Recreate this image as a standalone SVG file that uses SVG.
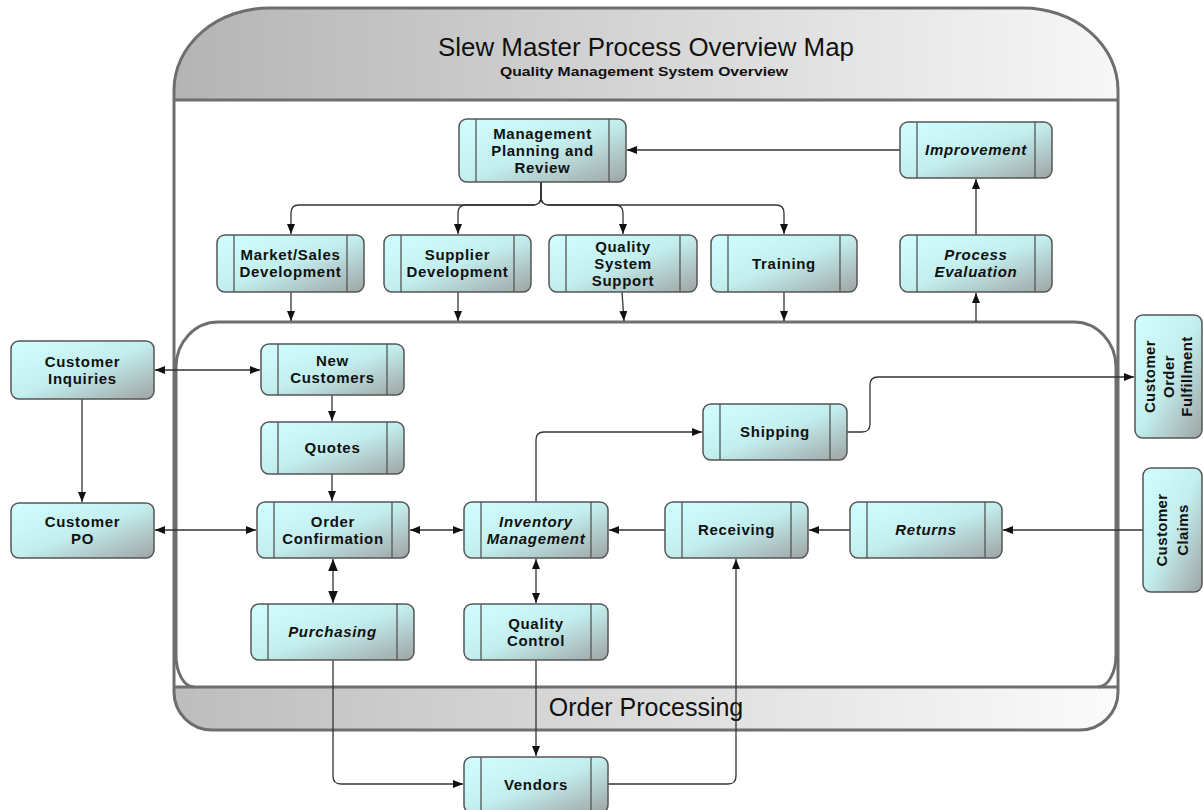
<svg xmlns="http://www.w3.org/2000/svg" width="1203" height="810" viewBox="0 0 1203 810">
<style>
.frame{fill:none;stroke:#6e6e6e;stroke-width:3}
.box{fill:url(#nodeGrad);stroke:#555;stroke-width:1.5}
.div{stroke:#555;stroke-width:1.3}
.lbl{font-family:"Liberation Sans",Arial,sans-serif;font-size:15px;font-weight:bold;fill:#111;text-anchor:middle;letter-spacing:0.7px}
.it{font-style:italic}
.vl{font-size:15px;letter-spacing:0.4px}
.con{fill:none;stroke:#333;stroke-width:1.3}
.title{font-family:"Liberation Sans",Arial,sans-serif;fill:#111;text-anchor:middle}
</style>
<defs>
<linearGradient id="nodeGrad" x1="0" y1="0" x2="1" y2="1">
<stop offset="0" stop-color="#d0ffff"/>
<stop offset="0.5" stop-color="#c3eeee"/>
<stop offset="1" stop-color="#9ea4a4"/>
</linearGradient>
<linearGradient id="headGrad" x1="0" y1="0" x2="1" y2="0">
<stop offset="0" stop-color="#b4b4b4"/>
<stop offset="1" stop-color="#f7f7f7"/>
</linearGradient>
<linearGradient id="footGrad" x1="0" y1="0" x2="1" y2="0">
<stop offset="0" stop-color="#bdbdbd"/>
<stop offset="1" stop-color="#fbfbfb"/>
</linearGradient>
<marker id="ah" viewBox="0 0 10 8" refX="10" refY="4" markerWidth="10" markerHeight="8" markerUnits="userSpaceOnUse" orient="auto-start-reverse">
<path d="M0,0 L10,4 L0,8 z" fill="#111"/>
</marker>
<marker id="ahb" viewBox="0 0 10 8" refX="10" refY="4" markerWidth="12" markerHeight="10" markerUnits="userSpaceOnUse" orient="auto-start-reverse">
<path d="M0,0 L10,4 L0,8 z" fill="#111"/>
</marker>
</defs>

<g id="background-frame">
<path d="M174,100 V90 A95 82 0 0 1 269,8 H1023 A95 82 0 0 1 1118,90 V100 Z" fill="url(#headGrad)"/>
<path d="M174,687 H1118 V692 A38 38 0 0 1 1080,730 H212 A38 38 0 0 1 174,692 Z" fill="url(#footGrad)"/>
<path class="frame" d="M174,100 V90 A95 82 0 0 1 269,8 H1023 A95 82 0 0 1 1118,90 V692 A38 38 0 0 1 1080,730 H212 A38 38 0 0 1 174,692 Z"/>
<line class="frame" x1="174" y1="100" x2="1118" y2="100"/>
<path class="frame" d="M194,687 A18 32 0 0 1 176,655 V367 A42 45 0 0 1 218,322 H1074 A42 45 0 0 1 1116,367 V655 A18 32 0 0 1 1098,687"/>
<line class="frame" x1="174" y1="687" x2="1118" y2="687"/>
<text class="title" x="646" y="56" font-size="26" textLength="416" lengthAdjust="spacingAndGlyphs">Slew Master Process Overview Map</text>
<text class="title" x="644" y="76" font-size="13.5" font-weight="bold" textLength="288" lengthAdjust="spacingAndGlyphs">Quality Management System Overview</text>
<text class="title" x="646" y="716" font-size="25">Order Processing</text>
</g>

<g id="connectors">
<path class="con" marker-end="url(#ah)" d="M900,150 H627"/>
<path class="con" marker-end="url(#ah)" d="M541,182 V197 Q541,205 533,205 H299 Q291,205 291,213 V234"/>
<path class="con" marker-end="url(#ah)" d="M541,182 V197 Q541,205 533,205 H466 Q458,205 458,213 V234"/>
<path class="con" marker-end="url(#ah)" d="M541,182 V197 Q541,205 549,205 H615 Q623,205 623,213 V234"/>
<path class="con" marker-end="url(#ah)" d="M541,182 V197 Q541,205 549,205 H776 Q784,205 784,213 V234"/>
<path class="con" marker-end="url(#ah)" d="M291,292 V321"/>
<path class="con" marker-end="url(#ah)" d="M458,292 V321"/>
<path class="con" marker-end="url(#ah)" d="M622,292 L624,321"/>
<path class="con" marker-end="url(#ah)" d="M784,292 V321"/>
<path class="con" marker-end="url(#ah)" d="M976,322 V293"/>
<path class="con" marker-end="url(#ah)" d="M976,235 V179"/>
<path class="con" marker-start="url(#ah)" marker-end="url(#ah)" d="M155,370 H260"/>
<path class="con" marker-end="url(#ah)" d="M82,399 V502"/>
<path class="con" marker-start="url(#ah)" marker-end="url(#ah)" d="M155,530 H256"/>
<path class="con" marker-end="url(#ah)" d="M332,395 V421"/>
<path class="con" marker-end="url(#ah)" d="M332,474 V501"/>
<path class="con" marker-start="url(#ahb)" marker-end="url(#ahb)" d="M333,559 V603"/>
<path class="con" marker-start="url(#ah)" marker-end="url(#ah)" d="M410,530 H463"/>
<path class="con" marker-start="url(#ah)" marker-end="url(#ah)" d="M536,559 V603"/>
<path class="con" marker-end="url(#ah)" d="M665,530 H609"/>
<path class="con" marker-end="url(#ah)" d="M850,530 H809"/>
<path class="con" marker-end="url(#ah)" d="M1143,530 H1003"/>
<path class="con" marker-end="url(#ah)" d="M536,502 V440 Q536,432 544,432 H702"/>
<path class="con" marker-end="url(#ah)" d="M847,432 H862 Q870,432 870,424 V385 Q870,377 878,377 H1134"/>
<path class="con" marker-end="url(#ah)" d="M333,660 V776 Q333,784 341,784 H463"/>
<path class="con" marker-end="url(#ah)" d="M536,660 V756"/>
<path class="con" marker-end="url(#ah)" d="M608,784 H728 Q736,784 736,776 V559"/>
</g>

<g id="mgmt"><rect class="box" x="459" y="119" width="167" height="63" rx="8"/><line class="div" x1="476" y1="119" x2="476" y2="182"/><line class="div" x1="609" y1="119" x2="609" y2="182"/>
<text class="lbl" x="542.5" y="138.5">Management</text><text class="lbl" x="542.5" y="155.5">Planning and</text><text class="lbl" x="542.5" y="172.5">Review</text></g>
<g id="improvement"><rect class="box" x="900" y="122" width="152" height="56" rx="8"/><line class="div" x1="917" y1="122" x2="917" y2="178"/><line class="div" x1="1035" y1="122" x2="1035" y2="178"/>
<text class="lbl it" x="976" y="155">Improvement</text></g>
<g id="market"><rect class="box" x="217" y="235" width="147" height="57" rx="8"/><line class="div" x1="234" y1="235" x2="234" y2="292"/><line class="div" x1="347" y1="235" x2="347" y2="292"/>
<text class="lbl" x="290.5" y="260">Market/Sales</text><text class="lbl" x="290.5" y="277">Development</text></g>
<g id="supplier"><rect class="box" x="384" y="235" width="147" height="57" rx="8"/><line class="div" x1="401" y1="235" x2="401" y2="292"/><line class="div" x1="514" y1="235" x2="514" y2="292"/>
<text class="lbl" x="457.5" y="260">Supplier</text><text class="lbl" x="457.5" y="277">Development</text></g>
<g id="qss"><rect class="box" x="549" y="235" width="148" height="57" rx="8"/><line class="div" x1="566" y1="235" x2="566" y2="292"/><line class="div" x1="680" y1="235" x2="680" y2="292"/>
<text class="lbl" x="623" y="251.5">Quality</text><text class="lbl" x="623" y="268.5">System</text><text class="lbl" x="623" y="285.5">Support</text></g>
<g id="training"><rect class="box" x="711" y="235" width="146" height="57" rx="8"/><line class="div" x1="728" y1="235" x2="728" y2="292"/><line class="div" x1="840" y1="235" x2="840" y2="292"/>
<text class="lbl" x="784" y="268.5">Training</text></g>
<g id="proceval"><rect class="box" x="900" y="235" width="152" height="57" rx="8"/><line class="div" x1="917" y1="235" x2="917" y2="292"/><line class="div" x1="1035" y1="235" x2="1035" y2="292"/>
<text class="lbl it" x="976" y="260">Process</text><text class="lbl it" x="976" y="277">Evaluation</text></g>
<g id="custinq"><rect class="box" x="11" y="341" width="143" height="58" rx="8"/>
<text class="lbl" x="82.5" y="366.5">Customer</text><text class="lbl" x="82.5" y="383.5">Inquiries</text></g>
<g id="newcust"><rect class="box" x="261" y="344" width="143" height="51" rx="8"/><line class="div" x1="278" y1="344" x2="278" y2="395"/><line class="div" x1="387" y1="344" x2="387" y2="395"/>
<text class="lbl" x="332.5" y="366">New</text><text class="lbl" x="332.5" y="383">Customers</text></g>
<g id="quotes"><rect class="box" x="261" y="422" width="143" height="52" rx="8"/><line class="div" x1="278" y1="422" x2="278" y2="474"/><line class="div" x1="387" y1="422" x2="387" y2="474"/>
<text class="lbl" x="332.5" y="453">Quotes</text></g>
<g id="ordconf"><rect class="box" x="257" y="502" width="152" height="56" rx="8"/><line class="div" x1="274" y1="502" x2="274" y2="558"/><line class="div" x1="392" y1="502" x2="392" y2="558"/>
<text class="lbl" x="333" y="526.5">Order</text><text class="lbl" x="333" y="543.5">Confirmation</text></g>
<g id="custpo"><rect class="box" x="11" y="503" width="143" height="55" rx="8"/>
<text class="lbl" x="82.5" y="527">Customer</text><text class="lbl" x="82.5" y="544">PO</text></g>
<g id="inventory"><rect class="box" x="464" y="502" width="144" height="56" rx="8"/><line class="div" x1="481" y1="502" x2="481" y2="558"/><line class="div" x1="591" y1="502" x2="591" y2="558"/>
<text class="lbl it" x="536" y="526.5">Inventory</text><text class="lbl it" x="536" y="543.5">Management</text></g>
<g id="shipping"><rect class="box" x="703" y="404" width="144" height="56" rx="8"/><line class="div" x1="720" y1="404" x2="720" y2="460"/><line class="div" x1="830" y1="404" x2="830" y2="460"/>
<text class="lbl" x="775" y="437">Shipping</text></g>
<g id="receiving"><rect class="box" x="665" y="502" width="143" height="56" rx="8"/><line class="div" x1="682" y1="502" x2="682" y2="558"/><line class="div" x1="791" y1="502" x2="791" y2="558"/>
<text class="lbl" x="736.5" y="535">Receiving</text></g>
<g id="returns"><rect class="box" x="850" y="502" width="152" height="56" rx="8"/><line class="div" x1="867" y1="502" x2="867" y2="558"/><line class="div" x1="985" y1="502" x2="985" y2="558"/>
<text class="lbl it" x="926" y="535">Returns</text></g>
<g id="purchasing"><rect class="box" x="251" y="604" width="163" height="56" rx="8"/><line class="div" x1="268" y1="604" x2="268" y2="660"/><line class="div" x1="397" y1="604" x2="397" y2="660"/>
<text class="lbl it" x="332.5" y="637">Purchasing</text></g>
<g id="qc"><rect class="box" x="464" y="604" width="144" height="56" rx="8"/><line class="div" x1="481" y1="604" x2="481" y2="660"/><line class="div" x1="591" y1="604" x2="591" y2="660"/>
<text class="lbl" x="536" y="628.5">Quality</text><text class="lbl" x="536" y="645.5">Control</text></g>
<g id="vendors"><rect class="box" x="464" y="757" width="144" height="56" rx="8"/><line class="div" x1="481" y1="757" x2="481" y2="813"/><line class="div" x1="591" y1="757" x2="591" y2="813"/>
<text class="lbl" x="536" y="790">Vendors</text></g>
<g id="fulfillment"><rect class="box" x="1135" y="315" width="67" height="123" rx="8"/>
<g transform="rotate(-90 1168.5 376.5)"><text class="lbl vl" x="1168.5" y="363">Customer</text><text class="lbl vl" x="1168.5" y="381.5">Order</text><text class="lbl vl" x="1168.5" y="400">Fulfillment</text></g></g>
<g id="claims"><rect class="box" x="1143" y="468" width="59" height="124" rx="8"/>
<g transform="rotate(-90 1172.5 530)"><text class="lbl vl" x="1172.5" y="524">Customer</text><text class="lbl vl" x="1172.5" y="545">Claims</text></g></g>
</svg>
